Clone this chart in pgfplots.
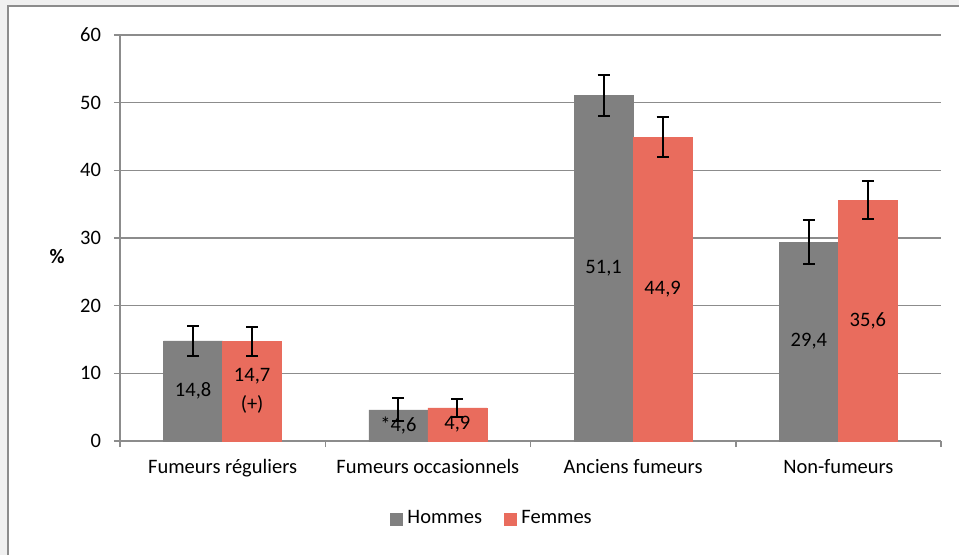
\documentclass[border=0pt]{standalone}
\usepackage{pgfplots}
\pgfplotsset{compat=1.18}
\usepackage{fontspec}
\setmainfont{Carlito}
\definecolor{hom}{HTML}{808080}
\definecolor{fem}{HTML}{E96C5D}
\definecolor{gridc}{HTML}{8C8C8C}
\definecolor{bgc}{HTML}{F0F0F0}
\begin{document}
\fontsize{20.5}{24}\selectfont
\begin{tikzpicture}[x=1pt,y=1pt]
\useasboundingbox (0,0) rectangle (959,555);
\fill[bgc] (0,0) rectangle (959,555);
\fill[white] (8,0) rectangle (959,549);
\draw[gridc, line width=1.6pt] (8,0) -- (8,549) -- (959,549);
\begin{axis}[
  at={(120pt,114pt)}, anchor=south west, scale only axis,
  width=821pt, height=406pt,
  ymin=0, ymax=60, ytick={0,10,...,60},
  xmin=-0.5, xmax=3.5,
  xtick={-0.5,0.5,1.5,2.5,3.5}, xticklabels={},
  extra x ticks={0,1,2,3},
  extra x tick labels={Fumeurs réguliers, Fumeurs occasionnels, Anciens fumeurs, Non-fumeurs},
  extra x tick style={major tick length=0pt, grid=none},
  axis x line*=bottom, axis y line*=left,
  axis line style={-, draw=gridc, line width=1.5pt},
  tick align=outside, major tick length=6pt,
  tick style={draw=gridc, line width=1.5pt},
  ymajorgrids, major grid style={draw=gridc, line width=1.4pt},
  tick label style={font=\fontsize{20.5}{24}\selectfont, text=black},
  /pgf/number format/assume math mode=true,
  yticklabel style={xshift=-6pt},
  xticklabel style={yshift=-11pt},
  bar width=59pt,
  legend style={at={(0.453,-0.192)}, anchor=center, draw=none, fill=none,
    legend columns=2, font=\fontsize{20.5}{24}\selectfont,
    /tikz/every odd column/.append style={column sep=3pt},
    /tikz/every even column/.append style={column sep=20pt}},
  legend cell align=left,
  clip=false,
  errb/.style={draw=none, mark=none, forget plot,
    error bars/.cd, y dir=both, y explicit, error mark=-,
    error bar style={draw=black, solid, line width=2pt},
    error mark options={draw=black, solid, line width=2pt, mark size=6pt, rotate=90}},
]
\addplot[ybar, bar shift=-29.5pt, fill=hom, draw=hom, forget plot]
  coordinates {(0,14.8) (1,4.6) (2,51.1) (3,29.4)};
\addplot[ybar, bar shift=29.5pt, fill=fem, draw=fem, forget plot]
  coordinates {(0,14.7) (1,4.9) (2,44.9) (3,35.6)};
% error bars (x positions = category -/+ half a bar width, 29.5pt = 0.1437 units)
\addplot[errb] coordinates {(-0.1437,14.8) +- (0,2.25) (0.8563,4.6) +- (0,1.7) (1.8563,51.1) +- (0,3.05) (2.8563,29.4) +- (0,3.2)};
\addplot[errb] coordinates {(0.1437,14.7) +- (0,2.1) (1.1437,4.9) +- (0,1.3) (2.1437,44.9) +- (0,2.95) (3.1437,35.6) +- (0,2.8)};
\addlegendimage{legend image code/.code={\fill[hom] (0pt,-6pt) rectangle (12pt,6pt);}}
\addlegendentry{Hommes}
\addlegendimage{legend image code/.code={\fill[fem] (0pt,-6pt) rectangle (12pt,6pt);}}
\addlegendentry{Femmes}
\node[xshift=-29.5pt] at (axis cs:0,7.4) {14,8};
\node[xshift=29.5pt, align=center, font=\fontsize{20.5}{29}\selectfont] at (axis cs:0,7.35) {14,7\\(+)};
\node[xshift=-29.5pt] at (axis cs:1,2.3) {*4,6};
\node[xshift=29.5pt] at (axis cs:1,2.45) {4,9};
\node[xshift=-29.5pt] at (axis cs:2,25.55) {51,1};
\node[xshift=29.5pt] at (axis cs:2,22.45) {44,9};
\node[xshift=-29.5pt] at (axis cs:3,14.7) {29,4};
\node[xshift=29.5pt] at (axis cs:3,17.8) {35,6};
\end{axis}
\node[font=\bfseries\fontsize{20.5}{24}\selectfont] at (57,298) {\%};
\end{tikzpicture}
\end{document}
